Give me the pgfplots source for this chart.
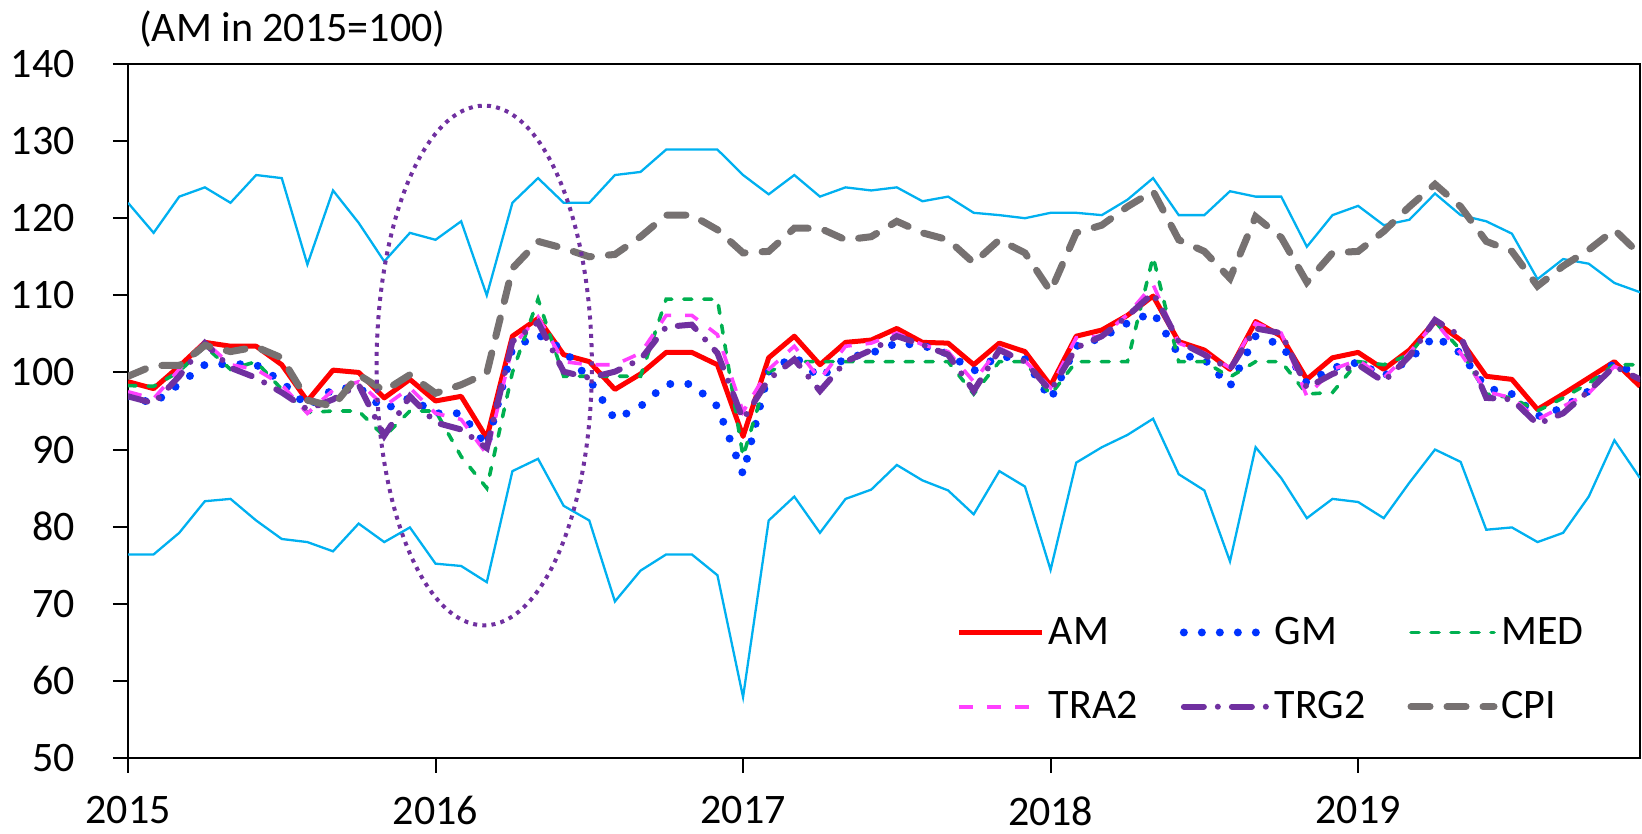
\documentclass[border=0pt]{standalone}
\usepackage{fontspec}
\setmainfont{Carlito}
\usepackage{pgfplots}
\usepackage{pgfplotstable}
\pgfplotsset{compat=1.18}
\definecolor{cAM}{HTML}{FF0000}
\definecolor{cGM}{HTML}{0033FF}
\definecolor{cMED}{HTML}{00B050}
\definecolor{cTRA}{HTML}{FF40FF}
\definecolor{cTRG}{HTML}{7030A0}
\definecolor{cCPI}{HTML}{767171}
\definecolor{cBand}{HTML}{00B0F0}

\pgfplotstableread{
i AM GM MED TRA TRG CPI UP LOW
0 98.8 96.9 98.3 97.5 96.9 99.5 122.0 76.4
1 97.9 96.0 98.2 96.6 96.0 100.9 118.1 76.4
2 100.8 98.5 100.1 100.4 99.5 100.9 122.8 79.2
3 103.9 101.0 103.4 104.0 103.8 103.5 124.0 83.3
4 103.4 101.1 100.4 101.0 100.6 102.7 122.0 83.6
5 103.4 101.0 101.4 100.4 99.3 103.3 125.6 80.8
6 101.0 98.8 97.8 98.4 97.4 101.9 125.2 78.4
7 96.3 95.6 94.8 94.7 95.2 96.4 114.0 78.0
8 100.3 97.8 95.0 97.7 96.5 95.6 123.6 76.8
9 100.0 98.1 95.0 98.8 98.4 99.7 119.4 80.4
10 96.7 95.2 91.7 95.6 91.8 97.6 114.4 78.0
11 99.1 96.7 95.0 98.0 96.9 99.7 118.1 79.9
12 96.3 94.7 95.0 94.7 93.5 97.3 117.2 75.2
13 96.9 94.7 89.1 93.9 92.6 98.4 119.6 74.9
14 91.5 90.4 85.0 89.4 90.2 99.9 110.0 72.8
15 104.7 103.1 100.0 103.4 104.0 113.5 122.0 87.2
16 107.0 104.9 109.5 107.2 106.5 117.0 125.2 88.8
17 102.3 102.9 99.5 101.4 100.1 116.1 122.0 82.7
18 101.4 99.1 99.5 101.0 99.3 115.0 122.0 80.8
19 97.8 93.9 99.5 101.0 100.1 115.3 125.6 70.3
20 99.8 95.6 99.5 102.5 101.7 117.6 126.0 74.3
21 102.6 98.5 109.5 107.4 105.9 120.4 128.9 76.4
22 102.6 98.5 109.5 107.4 106.2 120.4 128.9 76.4
23 101.0 95.6 109.5 104.9 102.5 118.5 128.9 73.7
24 91.7 86.8 89.1 94.9 93.9 115.5 125.6 57.9
25 101.9 100.1 100.1 100.4 99.1 115.7 123.1 80.8
26 104.7 102.1 101.4 103.4 101.7 118.7 125.6 83.9
27 101.0 99.3 101.4 99.1 97.6 118.7 122.8 79.2
28 103.9 101.9 101.4 103.4 101.4 117.2 124.0 83.6
29 104.2 102.5 101.4 103.8 102.9 117.6 123.6 84.8
30 105.7 103.8 101.4 105.1 104.7 119.6 124.0 88.0
31 103.9 103.5 101.4 103.6 103.6 118.1 122.2 86.0
32 103.8 102.4 101.4 102.7 102.3 117.2 122.8 84.7
33 101.0 100.2 97.2 98.8 97.6 114.2 120.7 81.6
34 103.8 102.1 101.4 103.2 102.9 117.2 120.4 87.2
35 102.7 101.7 101.4 101.5 101.4 115.5 120.0 85.2
36 98.3 96.5 97.1 98.0 97.6 110.5 120.7 74.4
37 104.7 103.4 101.4 104.5 103.2 118.1 120.7 88.3
38 105.5 104.5 101.4 104.7 104.7 119.1 120.4 90.3
39 107.4 106.4 101.4 107.5 107.3 121.5 122.4 91.9
40 109.9 107.8 115.0 111.4 110.3 123.5 125.2 94.0
41 104.0 102.3 101.4 103.8 104.0 117.2 120.4 86.8
42 102.9 101.7 101.4 102.5 102.3 115.7 120.4 84.7
43 100.4 98.2 99.4 100.6 100.4 112.2 123.5 75.5
44 106.6 104.7 101.4 106.4 105.7 120.2 122.8 90.3
45 104.7 103.6 101.4 105.1 105.1 117.5 122.8 86.3
46 99.1 98.6 97.2 96.9 98.0 111.7 116.3 81.1
47 101.9 100.6 97.4 100.4 99.8 115.5 120.4 83.6
48 102.6 101.3 101.4 101.6 101.0 115.7 121.6 83.2
49 100.4 99.5 101.0 99.3 98.8 118.3 119.1 81.1
50 102.9 101.7 102.3 102.5 102.1 121.5 119.8 85.7
51 106.6 104.7 106.6 106.6 106.8 124.4 123.2 90.0
52 104.2 102.5 102.9 102.5 104.7 121.5 120.4 88.4
53 99.5 98.0 97.2 97.5 96.7 117.0 119.6 79.6
54 99.1 97.2 96.7 96.7 96.5 115.7 118.0 79.9
55 95.2 94.3 95.0 93.9 93.3 111.2 112.1 78.0
56 97.2 95.4 96.7 95.6 94.7 113.8 114.7 79.2
57 99.3 97.6 98.6 97.3 97.6 115.9 114.1 83.9
58 101.4 101.3 101.0 100.8 100.8 118.5 111.6 91.2
59 98.2 99.5 101.0 99.1 99.1 115.3 110.4 86.3
}\data

\begin{document}
\begin{tikzpicture}
\begin{axis}[
  name=ax,
  scale only axis, width=756pt, height=347pt,
  xmin=0, xmax=59, ymin=50, ymax=140,
  xtick={0,12,24,36,48}, xticklabels={2015,2016,2017,2018,2019},
  ytick={50,60,...,140},
  tick align=outside, major tick length=7.5pt,
  xtick pos=bottom, ytick pos=left,
  axis line style={line width=1pt},
  tick style={line width=1pt, black},
  ticklabel style={font=\fontsize{21}{25}\selectfont},
  /pgf/number format/assume math mode=true,
  yticklabel style={anchor=east, inner sep=0pt, xshift=-19pt},
  xticklabel style={anchor=north, inner sep=0pt, yshift=-11.5pt},
  legend columns=3,
  legend cell align=left,
  legend image code/.code={\draw[#1] (0pt,0pt) -- (41.5pt,0pt);},
  legend style={draw=none, fill=none, at={(0.548,0.209)}, anchor=north west,
    font=\fontsize{21}{25}\selectfont, row sep=18pt, inner sep=0pt,
    /tikz/every even column/.append style={column sep=19pt}},
]
\addplot[cBand, line width=1.15pt, forget plot] table[x=i, y=UP] {\data};
\addplot[cBand, line width=1.15pt, forget plot] table[x=i, y=LOW] {\data};
\addplot[cAM, line width=2.5pt, line join=round] table[x=i, y=AM] {\data};
\addlegendentry{AM}
\addplot[cGM, line width=4pt, line cap=round, dash pattern=on 0pt off 9pt] table[x=i, y=GM] {\data};
\addlegendentry{GM}
\addplot[cMED, line width=1.8pt, line cap=round, dash pattern=on 4pt off 6pt] table[x=i, y=MED] {\data};
\addlegendentry{MED}
\addplot[cTRA, line width=1.8pt, dash pattern=on 7pt off 7pt] table[x=i, y=TRA] {\data};
\addlegendentry{TRA2}
\addplot[cTRG, line width=3pt, line cap=round, dash pattern=on 10pt off 7pt on 0pt off 7pt] table[x=i, y=TRG] {\data};
\addlegendentry{TRG2}
\addplot[cCPI, line width=3.5pt, line cap=round, dash pattern=on 9.5pt off 8.5pt] table[x=i, y=CPI] {\data};
\addlegendentry{CPI}
\draw[cTRG, line width=2pt, dash pattern=on 2pt off 2.6pt] (axis cs:13.9,100.9) ellipse [x radius=4.2, y radius=33.7];
\end{axis}
\node[anchor=base west, font=\fontsize{21}{25}\selectfont] at ([xshift=2pt,yshift=11pt]ax.north west) {(AM in 2015=100)};
\pgfresetboundingbox
\path[use as bounding box] ([xshift=-64pt,yshift=-38pt]ax.south west) rectangle ([xshift=1pt,yshift=32pt]ax.north east);
\end{tikzpicture}
\end{document}
